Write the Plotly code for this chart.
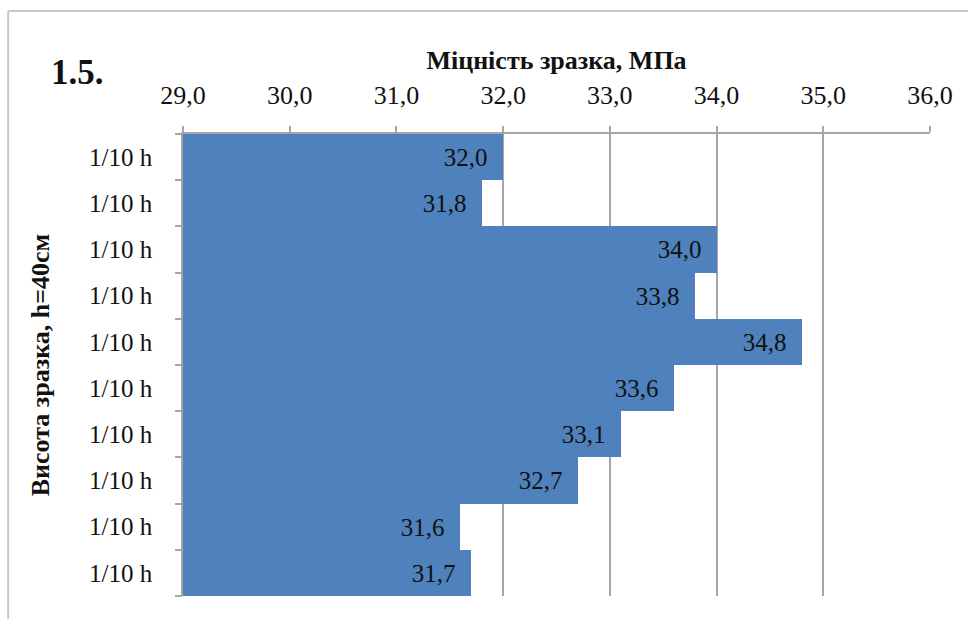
import plotly.graph_objects as go

# Strength of each tenth of the specimen height, top to bottom
segment_labels = ["1/10 h"] * 10
strength_mpa = [32.0, 31.8, 34.0, 33.8, 34.8, 33.6, 33.1, 32.7, 31.6, 31.7]
x_ticks = [29, 30, 31, 32, 33, 34, 35, 36]

positions = list(range(len(strength_mpa)))
boundaries = [p - 0.5 for p in positions] + [positions[-1] + 0.5]

FONT = "Liberation Serif"
GRID = "#a6a6a6"
INK = "#111111"

fig = go.Figure()
fig.add_trace(go.Bar(
    x=strength_mpa,
    y=positions,
    orientation="h",
    marker=dict(color="#4f81bd", line=dict(width=0)),
    text=strength_mpa,
    texttemplate="%{x:.1f}  ",
    textposition="inside",
    insidetextanchor="end",
    textfont=dict(family=FONT, size=25, color=INK),
    hoverinfo="skip",
))
# invisible helper trace so the boundary-tick axis is drawn
fig.add_trace(go.Scatter(x=[29], y=[0], yaxis="y2", mode="markers",
                         marker=dict(opacity=0), hoverinfo="skip", showlegend=False))

fig.update_layout(
    width=968, height=619,
    margin=dict(l=183, r=38, t=134, b=23),
    paper_bgcolor="white", plot_bgcolor="white",
    separators=", ",
    bargap=0,
    showlegend=False,
    font=dict(family=FONT, color=INK),
    xaxis=dict(
        side="top",
        range=[29, 36],
        tickvals=x_ticks,
        tickformat=".1f",
        tickfont=dict(family=FONT, size=26, color=INK),
        ticklabelstandoff=12,
        showgrid=True, gridcolor=GRID, gridwidth=1.5,
        ticks="outside", ticklen=6, tickcolor=GRID, tickwidth=1.5,
        showline=True, linecolor=GRID, linewidth=1.5,
        zeroline=False,
        title=dict(text="<b>Міцність зразка, МПа</b>",
                   font=dict(family=FONT, size=26, color=INK), standoff=4),
    ),
    yaxis=dict(
        range=[positions[-1] + 0.5, -0.5],
        tickvals=positions,
        ticktext=segment_labels,
        tickfont=dict(family=FONT, size=25, color=INK),
        ticks="outside", ticklen=24, tickcolor="rgba(0,0,0,0)",
        showgrid=False, zeroline=False,
        showline=True, linecolor=GRID, linewidth=1.5,
        title=dict(text="<b>Висота зразка, h=40см</b>",
                   font=dict(family=FONT, size=26, color=INK), standoff=32),
    ),
    yaxis2=dict(
        overlaying="y",
        range=[positions[-1] + 0.5, -0.5],
        tickvals=boundaries,
        showticklabels=False,
        ticks="outside", ticklen=7, tickcolor=GRID, tickwidth=1.5,
        showgrid=False, zeroline=False, showline=False,
    ),
    annotations=[dict(
        text="<b>1.5.</b>", xref="paper", yref="paper",
        x=-0.18, y=1.134, xanchor="left", yanchor="middle",
        showarrow=False, font=dict(family=FONT, size=35, color=INK),
    )],
    shapes=[
        # chart frame (top and left edges)
        dict(type="line", xref="paper", yref="paper",
             x0=-0.234, x1=1.06, y0=1.266, y1=1.266,
             line=dict(color="#c8c8c8", width=2)),
        dict(type="line", xref="paper", yref="paper",
             x0=-0.234, x1=-0.234, y0=1.266, y1=-0.06,
             line=dict(color="#c8c8c8", width=2)),
    ],
)

fig.write_html("out.html")
